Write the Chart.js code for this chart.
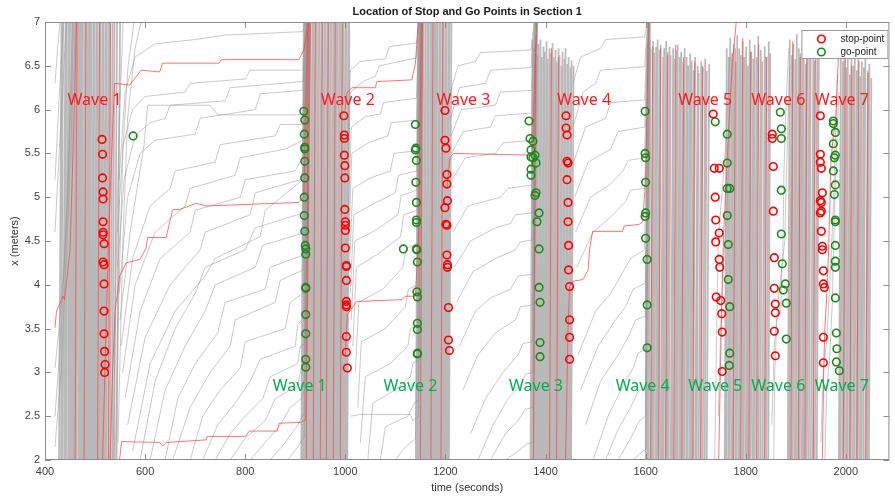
<!DOCTYPE html>
<html>
<head>
<meta charset="utf-8">
<title>Location of Stop and Go Points in Section 1</title>
<script src="https://cdn.jsdelivr.net/npm/chart.js@4.4.1/dist/chart.umd.min.js"></script>
<style>
  html, body { margin: 0; padding: 0; background: #fff; }
  #wrap { width: 895px; height: 498px; }
</style>
</head>
<body>
<div id="wrap"><canvas id="stopGoChart" width="895" height="498"></canvas></div>
<script>
// Axis ranges (time in seconds, position x in meters)
const timeMin = 400;
const timeMax = 2087;
const posMin = 2;
const posMax = 7;

// Wave labels
const waveNames = ['Wave 1', 'Wave 2', 'Wave 3', 'Wave 4', 'Wave 5', 'Wave 6', 'Wave 7'];
const stopLabelTime = [499, 1005, 1236, 1477, 1719, 1865, 1992];
const stopLabelPos = 6.11;
const goLabelTime = [909, 1130, 1381, 1594, 1739, 1865, 1992];
const goLabelPos = 2.84;

// Stop points (red circles), one row per wave
const stopTime = [
  514, 515, 515, 516, 516, 516, 516, 516, 518, 516, 518, 518, 518, 518, 519, 520, 519,
  997, 998, 998, 998, 999, 999, 999, 1000, 1000, 1000, 1000, 1002, 1002, 1002, 1002, 1002, 1002, 1002, 1002, 1004,
  1199, 1199, 1201, 1203, 1203, 1204, 1199, 1201, 1203, 1203, 1204, 1204, 1206, 1206, 1208,
  1441, 1441, 1443, 1443, 1445, 1443, 1445, 1445, 1446, 1446, 1448, 1448, 1448, 1448,
  1735, 1737, 1747, 1739, 1740, 1747, 1740, 1747, 1748, 1741, 1750, 1752, 1753, 1753,
  1853, 1853, 1855, 1855, 1857, 1857, 1859, 1859, 1857, 1859,
  1949, 1949, 1949, 1951, 1953, 1949, 1951, 1951, 1949, 1951, 1953, 1953, 1955, 1955, 1957, 1955, 1955
];
const stopPos = [
  5.66, 5.49, 5.22, 5.06, 4.98, 4.72, 4.60, 4.57, 4.47, 4.26, 4.23, 4.01, 3.70, 3.44, 3.24, 3.09, 3.00,
  5.93, 5.71, 5.67, 5.48, 5.36, 5.22, 4.86, 4.72, 4.68, 4.62, 4.42, 4.22, 4.21, 4.05, 3.81, 3.77, 3.75, 3.41, 3.23, 3.05,
  5.99, 5.65, 5.56, 5.26, 5.15, 4.96, 4.88, 4.69, 4.68, 4.34, 4.23, 4.20, 3.74, 3.37, 3.25,
  5.93, 5.79, 5.71, 5.41, 5.39, 5.20, 4.94, 4.72, 4.45, 4.17, 3.98, 3.60, 3.40, 3.15,
  5.95, 5.33, 5.33, 5.00, 4.74, 4.59, 4.49, 4.29, 4.20, 3.86, 3.82, 3.67, 3.46, 3.01,
  5.72, 5.67, 5.35, 4.84, 4.31, 3.96, 3.78, 3.68, 3.47, 3.19,
  5.93, 5.49, 5.40, 5.33, 5.05, 4.96, 4.94, 4.84, 4.82, 4.61, 4.44, 4.40, 4.16, 4.01, 3.97, 3.40, 3.11
];

// Go points (green circles)
const goTime = [
  576,
  917, 919, 918, 919, 919, 919, 919, 918, 918, 919, 920, 921, 921, 921, 921, 921, 921, 921, 921,
  1140, 1141, 1140, 1142, 1141, 1142, 1142, 1142, 1142, 1143, 1116, 1144, 1143, 1144, 1144, 1144, 1144, 1144,
  1367, 1369, 1375, 1371, 1379, 1371, 1375, 1381, 1371, 1371, 1381, 1379, 1387, 1383, 1387, 1387, 1389, 1389, 1389,
  1599, 1599, 1600, 1600, 1600, 1599, 1600, 1603, 1603, 1603,
  1739, 1763, 1763, 1763, 1768, 1763, 1765, 1765, 1768, 1768, 1767,
  1869, 1871, 1871, 1871, 1871, 1873, 1879, 1875, 1881, 1881,
  1975, 1975, 1979, 1975, 1979, 1977, 1975, 1979, 1977, 1979, 1979, 1979, 1979, 1979, 1979, 1981, 1982, 1981, 1987
];
const goPos = [
  5.70,
  5.98, 5.88, 5.72, 5.57, 5.55, 5.41, 5.22, 5.00, 4.79, 4.61, 4.45, 4.41, 4.35, 3.97, 3.96, 3.66, 3.44, 3.15, 3.06,
  5.83, 5.56, 5.54, 5.42, 5.17, 4.94, 4.74, 4.71, 4.41, 4.40, 4.41, 4.26, 3.92, 3.86, 3.56, 3.49, 3.22, 3.21,
  5.87, 5.67, 5.64, 5.54, 5.48, 5.46, 5.45, 5.39, 5.32, 5.25, 5.05, 5.02, 4.82, 4.72, 4.41, 3.97, 3.80, 3.34, 3.18,
  5.98, 5.50, 5.45, 5.17, 4.82, 4.78, 4.53, 4.29, 3.77, 3.28,
  5.86, 5.72, 5.39, 5.10, 5.10, 4.79, 4.46, 4.06, 3.75, 3.22, 3.08,
  5.97, 5.78, 5.67, 5.08, 4.58, 4.24, 4.01, 3.94, 3.79, 3.38,
  5.87, 5.84, 5.74, 5.61, 5.48, 5.45, 5.30, 5.14, 5.03, 4.74, 4.72, 4.45, 4.27, 4.20, 3.85, 3.45, 3.27, 3.12, 3.02
];

// Dense wave bands: [time at bottom, time at end, end position]
const band1 = [
  [428, 433, 7], [432, 436, 7], [435, 441, 7], [439, 443, 7], [442, 447, 7], [446, 450, 7], [449, 454, 7],
  [452, 456, 7], [455, 460, 7], [458, 462, 7], [461, 466, 7], [463, 468, 7], [467, 471, 7], [469, 474, 7],
  [472, 476, 7], [475, 480, 7], [478, 482, 7], [481, 486, 7], [483, 488, 7], [486, 491, 7], [489, 493, 7],
  [492, 497, 7], [495, 499, 7], [498, 503, 7], [501, 505, 7], [504, 509, 7], [507, 511, 7], [510, 515, 7],
  [513, 517, 7], [516, 521, 7], [519, 523, 7], [522, 527, 7], [526, 530, 7], [530, 535, 7], [534, 539, 7],
  [538, 544, 7], [543, 550, 7]
];
const band2 = [
  [912, 917, 7], [915, 919, 7], [918, 923, 7], [920, 924, 7], [923, 928, 7], [926, 930, 7], [929, 934, 7],
  [932, 936, 7], [935, 940, 7], [938, 942, 7], [941, 946, 7], [944, 948, 7], [947, 952, 7], [950, 954, 7],
  [953, 958, 7], [956, 960, 7], [959, 964, 7], [962, 966, 7], [965, 970, 7], [968, 972, 7], [971, 976, 7],
  [974, 978, 7], [977, 982, 7], [980, 984, 7], [983, 988, 7], [986, 990, 7], [989, 994, 7], [992, 996, 7],
  [995, 1000, 7], [998, 1002, 7], [1001, 1006, 7], [1004, 1008, 7]
];
const band3 = [
  [1141, 1145, 7], [1143, 1148, 7], [1146, 1150, 7], [1149, 1154, 7], [1152, 1156, 7], [1155, 1160, 7],
  [1157, 1161, 7], [1160, 1165, 7], [1163, 1167, 7], [1166, 1171, 7], [1169, 1173, 7], [1172, 1177, 7],
  [1175, 1179, 7], [1177, 1182, 7], [1180, 1184, 7], [1183, 1188, 7], [1186, 1190, 7], [1189, 1194, 7],
  [1192, 1196, 7], [1195, 1200, 7], [1198, 1202, 7], [1201, 1206, 7], [1204, 1208, 7], [1207, 1212, 7]
];
const band4 = [
  [1370, 1374, 6.8], [1373, 1378, 6.7], [1376, 1380, 6.85], [1379, 1384, 6.62], [1382, 1386, 6.75],
  [1385, 1390, 6.8], [1388, 1392, 6.6], [1391, 1396, 6.72], [1394, 1398, 6.66], [1397, 1402, 6.78],
  [1400, 1404, 6.58], [1403, 1408, 6.7], [1406, 1410, 6.64], [1409, 1414, 6.76], [1412, 1416, 6.6],
  [1415, 1420, 6.68], [1418, 1422, 6.55], [1421, 1426, 6.7], [1424, 1428, 6.62], [1427, 1432, 6.5],
  [1430, 1434, 6.66], [1433, 1438, 6.58], [1436, 1440, 6.7], [1439, 1444, 6.52], [1442, 1446, 6.6],
  [1445, 1450, 6.48], [1448, 1452, 6.56], [1451, 1456, 6.5]
];
const band5 = [
  [1600, 1604, 6.75], [1603, 1608, 6.8], [1606, 1610, 6.7], [1610, 1615, 6.78], [1613, 1617, 6.65],
  [1616, 1621, 6.72], [1620, 1624, 6.8], [1623, 1628, 6.68], [1626, 1630, 6.74], [1630, 1635, 6.6],
  [1633, 1637, 6.7], [1636, 1641, 6.78], [1640, 1644, 6.66], [1643, 1648, 6.72], [1646, 1650, 6.62],
  [1650, 1655, 6.7], [1653, 1657, 6.58], [1657, 1662, 6.68], [1660, 1664, 6.74], [1663, 1668, 6.6],
  [1667, 1671, 6.66], [1670, 1675, 6.55], [1674, 1678, 6.7], [1677, 1682, 6.6], [1681, 1685, 6.5],
  [1684, 1689, 6.64], [1688, 1692, 6.56], [1691, 1696, 6.45], [1695, 1699, 6.6], [1699, 1704, 6.5],
  [1702, 1706, 6.42], [1706, 1711, 6.55], [1710, 1714, 6.48], [1714, 1719, 6.58], [1718, 1722, 6.44],
  [1722, 1727, 6.52]
];
const band6 = [
  [1758, 1762, 6.7], [1761, 1766, 6.6], [1765, 1769, 6.82], [1768, 1773, 6.65], [1772, 1776, 6.75],
  [1775, 1780, 6.55], [1779, 1783, 6.85], [1782, 1787, 6.7], [1786, 1790, 6.62], [1789, 1794, 6.78],
  [1793, 1797, 6.6], [1796, 1801, 6.72], [1800, 1804, 6.5], [1803, 1808, 6.8], [1807, 1811, 6.66],
  [1810, 1815, 6.58], [1814, 1818, 6.74], [1817, 1822, 6.6], [1821, 1825, 6.84], [1825, 1830, 6.68],
  [1829, 1833, 6.55], [1833, 1838, 6.72], [1837, 1841, 6.6], [1841, 1846, 6.78], [1845, 1849, 6.64]
];
const band7 = [
  [1884, 1888, 6.8], [1887, 1892, 6.62], [1891, 1895, 6.75], [1894, 1899, 6.58], [1898, 1902, 6.86],
  [1901, 1906, 6.7], [1905, 1909, 6.6], [1908, 1913, 6.78], [1912, 1916, 6.66], [1915, 1920, 6.52],
  [1919, 1923, 6.74], [1922, 1927, 6.6], [1926, 1930, 6.82], [1930, 1935, 6.68], [1934, 1938, 6.56],
  [1938, 1943, 6.7], [1942, 1946, 6.6]
];
const band8 = [
  [1986, 1990, 6.7], [1989, 1994, 6.55], [1993, 1997, 6.66], [1996, 2001, 6.48], [2000, 2004, 6.62],
  [2003, 2008, 6.4], [2007, 2011, 6.58], [2010, 2015, 6.5], [2014, 2018, 6.64], [2017, 2022, 6.45],
  [2021, 2025, 6.6], [2024, 2029, 6.38], [2028, 2032, 6.55], [2031, 2036, 6.48], [2035, 2039, 6.6],
  [2039, 2044, 6.42], [2043, 2047, 6.52], [2046, 2051, 6.36]
];
// highlighted (red) trajectories inside the bands
const redBand = [
  [460, 464, 7], [478, 482, 7], [505, 509, 7], [527, 531, 7],
  [922, 926, 7], [936, 940, 7], [950, 954, 7], [962, 966, 7], [976, 980, 7], [990, 994, 7],
  [1150, 1154, 7], [1171, 1175, 7], [1191, 1195, 7],
  [1376, 1380, 6.75], [1408, 1412, 6.7], [1422, 1426, 6.6],
  [1610, 1614, 6.72], [1626, 1630, 6.7], [1640, 1644, 6.62], [1656, 1660, 6.74], [1672, 1676, 6.6],
  [1694, 1698, 6.55], [1710, 1714, 6.5], [1775, 1779, 6.7], [1790, 1794, 6.82], [1806, 1810, 6.66],
  [1822, 1826, 6.74], [1838, 1842, 6.6], [1890, 1894, 6.78], [1905, 1909, 6.64], [1918, 1922, 6.7],
  [1935, 1939, 6.58], [1995, 1999, 6.6], [2008, 2012, 6.5], [2022, 2026, 6.55], [2040, 2044, 6.45]
];

// Slow creeping trajectories between the waves: [time, position] points
const grayCurves = [
  // vehicles already in the section at the start
  [[420, 6.3], [426, 6.75], [430, 7]],
  [[420, 5.2], [428, 6.1], [437, 7]],
  [[420, 4.6], [431, 5.8], [443, 7]],
  [[420, 3.05], [428, 3.5], [438, 4.2], [449, 5.6], [458, 7]],
  [[420, 2.5], [430, 3.3], [444, 4.8], [455, 7]],
  [[420, 2.15], [432, 3.0], [447, 4.9], [461, 7]],
  [[536, 2.0], [542, 4.2], [548, 5.8], [556, 7]],
  [[540, 2.0], [548, 4.0], [556, 5.6], [566, 6.5], [578, 7]],
  [[546, 2.2], [555, 4.4], [565, 5.9], [580, 6.7], [592, 7]],
  // between wave 1 and wave 2
  [[548, 5.2], [560, 6.2], [580, 6.6], [620, 6.75], [700, 6.8], [760, 6.85], [915, 6.89], [920, 7]],
  [[545, 4.6], [556, 5.6], [575, 6.0], [600, 6.15], [680, 6.2], [690, 6.3], [800, 6.35], [810, 6.45], [915, 6.45], [920, 7]],
  [[545, 4.2], [558, 5.2], [580, 5.7], [610, 5.85], [640, 5.9], [650, 6.05], [760, 6.1], [770, 6.25], [915, 6.32], [921, 7]],
  [[548, 3.9], [565, 5.0], [590, 5.5], [620, 5.65], [700, 5.72], [710, 5.9], [820, 6.0], [830, 6.18], [915, 6.22], [922, 7]],
  [[550, 3.6], [570, 4.6], [598, 5.6], [605, 6.05], [730, 6.05], [745, 5.94], [915, 5.94], [922, 7]],
  [[552, 3.3], [575, 4.3], [610, 4.9], [650, 5.1], [660, 5.3], [740, 5.4], [750, 5.6], [860, 5.7], [870, 5.83], [915, 5.83], [923, 7]],
  [[555, 3.0], [580, 4.0], [620, 4.6], [680, 4.9], [690, 5.1], [780, 5.25], [790, 5.45], [880, 5.55], [915, 5.65], [923, 7]],
  [[560, 2.7], [590, 3.7], [630, 4.3], [690, 4.6], [700, 4.85], [790, 5.0], [800, 5.2], [900, 5.3], [915, 5.46], [924, 7]],
  [[565, 2.4], [600, 3.4], [650, 4.0], [710, 4.4], [720, 4.6], [810, 4.8], [820, 5.05], [910, 5.2], [916, 5.34], [924, 7]],
  [[575, 2.1], [610, 3.1], [660, 3.7], [720, 4.1], [740, 4.3], [830, 4.55], [840, 4.85], [915, 5.2], [925, 7]],
  [[590, 2.0], [620, 2.9], [660, 3.5], [700, 3.9], [720, 4.2], [800, 4.4], [820, 4.65], [915, 4.82], [925, 7]],
  [[610, 2.0], [640, 2.8], [680, 3.3], [720, 3.7], [740, 4.0], [820, 4.2], [835, 4.45], [915, 4.59], [926, 7]],
  [[640, 2.0], [665, 2.7], [700, 3.1], [745, 3.45], [760, 3.8], [840, 3.95], [850, 4.2], [916, 4.34], [926, 7]],
  [[655, 2.0], [690, 2.6], [730, 3.0], [770, 3.3], [780, 3.6], [860, 3.8], [870, 4.05], [916, 4.17], [927, 7]],
  [[690, 2.0], [715, 2.5], [750, 2.8], [790, 3.05], [800, 3.35], [880, 3.5], [890, 3.8], [917, 3.91], [927, 7]],
  [[715, 2.0], [745, 2.4], [780, 2.65], [810, 2.9], [830, 3.15], [900, 3.3], [905, 3.55], [917, 3.62], [928, 7]],
  [[740, 2.0], [770, 2.3], [800, 2.5], [835, 2.7], [850, 2.95], [905, 3.1], [910, 3.3], [918, 3.32], [928, 7]],
  [[770, 2.0], [800, 2.25], [840, 2.45], [860, 2.7], [905, 2.85], [912, 3.05], [918, 3.09], [929, 7]],
  [[810, 2.0], [840, 2.2], [870, 2.4], [890, 2.6], [912, 2.7], [918, 2.8], [929, 7]],
  [[850, 2.0], [880, 2.2], [905, 2.4], [918, 2.54], [930, 7]],
  [[885, 2.0], [905, 2.15], [918, 2.26], [930, 7]],
  // between wave 2 and wave 3: long plateaus with small steps
  [[1005, 5.6], [1010, 6.45], [1030, 6.55], [1080, 6.58], [1088, 6.72], [1142, 6.76], [1148, 7]],
  [[1005, 5.2], [1010, 6.2], [1035, 6.32], [1060, 6.38], [1068, 6.5], [1142, 6.59], [1148, 7]],
  [[1006, 4.8], [1012, 5.8], [1040, 5.92], [1070, 5.95], [1076, 6.08], [1142, 6.13], [1149, 7]],
  [[1007, 4.5], [1013, 5.5], [1045, 5.62], [1085, 5.7], [1092, 5.85], [1142, 5.88], [1149, 7]],
  [[1008, 4.2], [1015, 5.1], [1050, 5.22], [1090, 5.3], [1097, 5.5], [1143, 5.53], [1150, 7]],
  [[1010, 3.9], [1017, 4.8], [1055, 4.92], [1100, 5.05], [1106, 5.25], [1143, 5.3], [1150, 7]],
  [[1012, 3.6], [1019, 4.5], [1060, 4.62], [1105, 4.8], [1112, 5.02], [1143, 5.08], [1151, 7]],
  [[1015, 3.3], [1022, 4.2], [1065, 4.35], [1110, 4.55], [1117, 4.8], [1144, 4.85], [1151, 7]],
  [[1020, 3.0], [1027, 3.8], [1075, 3.95], [1115, 4.2], [1122, 4.42], [1144, 4.46], [1152, 7]],
  [[1025, 2.6], [1032, 3.35], [1080, 3.5], [1120, 3.75], [1126, 3.95], [1145, 4.0], [1152, 7]],
  [[1030, 2.2], [1040, 2.95], [1090, 3.1], [1125, 3.3], [1130, 3.5], [1145, 3.54], [1153, 7]],
  [[1045, 2.0], [1055, 2.65], [1100, 2.8], [1130, 2.95], [1135, 3.1], [1146, 3.14], [1153, 7]],
  [[1070, 2.0], [1080, 2.38], [1125, 2.5], [1138, 2.65], [1146, 2.68], [1154, 7]],
  [[1010, 2.5], [1030, 2.52], [1130, 2.52], [1135, 2.45], [1146, 2.49], [1154, 7]],
  [[1100, 2.0], [1120, 2.15], [1140, 2.24], [1155, 7]],
  // between wave 3 and wave 4
  [[1210, 6.2], [1225, 6.5], [1260, 6.55], [1270, 6.65], [1371, 6.68], [1377, 7]],
  [[1210, 5.9], [1228, 6.25], [1280, 6.3], [1290, 6.45], [1371, 6.48], [1378, 7]],
  [[1211, 5.7], [1232, 6.0], [1300, 6.05], [1310, 6.2], [1372, 6.22], [1378, 7]],
  [[1212, 5.5], [1236, 5.75], [1290, 5.8], [1300, 5.93], [1372, 5.96], [1379, 7]],
  [[1213, 5.2], [1240, 5.45], [1300, 5.5], [1315, 5.62], [1372, 5.65], [1379, 7]],
  [[1215, 4.6], [1245, 4.9], [1310, 5.0], [1325, 5.1], [1373, 5.14], [1380, 7]],
  [[1218, 4.2], [1250, 4.5], [1300, 4.65], [1330, 4.7], [1340, 4.8], [1373, 4.82], [1380, 7]],
  [[1222, 3.8], [1255, 4.15], [1300, 4.3], [1340, 4.4], [1350, 4.49], [1373, 4.51], [1381, 7]],
  [[1228, 3.3], [1260, 3.7], [1290, 3.85], [1330, 3.95], [1345, 4.1], [1374, 4.12], [1381, 7]],
  [[1235, 2.8], [1265, 3.2], [1300, 3.45], [1340, 3.6], [1350, 3.75], [1374, 3.77], [1382, 7]],
  [[1250, 2.3], [1280, 2.7], [1315, 3.0], [1345, 3.2], [1355, 3.33], [1374, 3.35], [1382, 7]],
  [[1265, 2.0], [1295, 2.4], [1325, 2.7], [1350, 2.85], [1360, 2.98], [1375, 3.0], [1383, 7]],
  [[1290, 2.0], [1320, 2.3], [1345, 2.45], [1360, 2.58], [1375, 2.6], [1383, 7]],
  [[1320, 2.0], [1345, 2.1], [1362, 2.18], [1376, 2.2], [1384, 7]],
  // between wave 4 and the long wave train
  [[1455, 6.3], [1470, 6.6], [1510, 6.7], [1520, 6.8], [1598, 6.83], [1603, 7]],
  [[1455, 5.8], [1475, 6.2], [1500, 6.3], [1510, 6.45], [1598, 6.49], [1604, 7]],
  [[1456, 5.4], [1480, 5.8], [1520, 5.9], [1530, 6.08], [1598, 6.11], [1604, 7]],
  [[1458, 5.0], [1485, 5.4], [1530, 5.55], [1545, 5.75], [1598, 5.8], [1605, 7]],
  [[1460, 4.6], [1490, 5.0], [1530, 5.15], [1555, 5.3], [1565, 5.42], [1598, 5.45], [1605, 7]],
  [[1462, 4.2], [1495, 4.6], [1535, 4.8], [1560, 4.95], [1570, 5.08], [1598, 5.1], [1606, 7]],
  [[1465, 3.2], [1500, 3.7], [1530, 3.9], [1550, 4.1], [1570, 4.3], [1598, 4.4], [1606, 7]],
  [[1470, 2.8], [1505, 3.3], [1540, 3.6], [1560, 3.75], [1575, 3.95], [1599, 4.02], [1607, 7]],
  [[1480, 2.4], [1510, 2.9], [1545, 3.2], [1565, 3.4], [1580, 3.6], [1599, 3.64], [1607, 7]],
  [[1495, 2.0], [1525, 2.5], [1555, 2.85], [1575, 3.05], [1585, 3.22], [1599, 3.26], [1608, 7]],
  [[1520, 2.0], [1545, 2.35], [1570, 2.6], [1585, 2.78], [1600, 2.84], [1608, 7]],
  [[1545, 2.0], [1570, 2.25], [1588, 2.45], [1600, 2.5], [1609, 7]],
  [[1575, 2.0], [1590, 2.08], [1600, 2.12], [1609, 7]],
  // inside the gaps of waves 5 to 7
  [[1738, 2.0], [1742, 3.5], [1745, 4.5], [1752, 5.0], [1760, 5.6], [1765, 6.2], [1768, 6.6]],
  [[1745, 2.5], [1750, 3.5], [1755, 4.2], [1762, 4.8], [1768, 5.8], [1772, 6.6]],
  [[1856, 2.0], [1858, 3.0], [1862, 3.6], [1870, 3.7], [1872, 4.2], [1878, 4.5], [1880, 5.0], [1884, 5.8], [1888, 6.5]],
  [[1852, 2.4], [1857, 3.3], [1866, 3.9], [1874, 4.3], [1876, 5.2], [1880, 6.0], [1886, 6.7]],
  [[1950, 2.2], [1955, 3.0], [1962, 3.4], [1967, 3.9], [1972, 4.5], [1976, 5.0], [1978, 5.5], [1983, 6.4]],
  [[1958, 2.0], [1962, 2.8], [1968, 3.2], [1973, 3.8], [1976, 4.6], [1980, 5.3], [1986, 6.2]]
];

const redCurves = [
  [[420, 3.51], [423, 3.7], [436, 3.87], [439, 3.83], [443, 4.02], [450, 4.4], [456, 5.5], [463, 7]],
  [[515, 2.0], [522, 3.5], [528, 4.7], [534, 5.6], [539, 6.3], [569, 6.28], [592, 6.45], [629, 6.43], [635, 6.53],
   [748, 6.53], [752, 6.57], [907, 6.57], [917, 6.68], [927, 7]],
  [[530, 2.0], [535, 3.0], [540, 3.7], [549, 4.1], [562, 4.25], [590, 4.29], [602, 4.42], [605, 4.54], [642, 4.54],
   [655, 4.86], [669, 4.86], [702, 4.93], [722, 4.9], [907, 4.94], [917, 5.0], [925, 7]],
  [[549, 2.0], [553, 2.21], [629, 2.2], [635, 2.16], [642, 2.2], [722, 2.23], [724, 2.27], [801, 2.27], [808, 2.33],
   [864, 2.33], [868, 2.42], [911, 2.43], [921, 2.46], [925, 4.0], [930, 7]],
  [[1000, 6.0], [1003, 6.19], [1013, 6.25], [1060, 6.25], [1063, 6.32], [1133, 6.34], [1140, 6.53], [1146, 7]],
  [[1000, 3.2], [1004, 3.66], [1023, 3.81], [1113, 3.83], [1120, 3.87], [1140, 3.87], [1146, 4.5], [1152, 7]],
  [[1203, 5.1], [1209, 5.45], [1216, 5.5], [1373, 5.48], [1378, 6.3], [1383, 7]],
  [[1440, 2.0], [1445, 3.5], [1448, 3.98], [1455, 4.04], [1475, 4.06], [1485, 4.17], [1488, 4.4], [1494, 4.61],
   [1554, 4.61], [1557, 4.67], [1587, 4.69], [1594, 4.72], [1600, 5.2], [1606, 7]],
  [[1746, 2.0], [1750, 3.2], [1753, 4.0], [1756, 4.6], [1761, 5.2], [1766, 5.8], [1773, 6.5], [1781, 7]],
  [[1953, 2.0], [1956, 3.1], [1958, 3.5], [1962, 3.9], [1965, 4.3], [1968, 4.9], [1970, 5.4], [1975, 5.7], [1980, 5.9], [1985, 6.6]]
];

// ---- helpers -------------------------------------------------------------

// turn a band of [t0, t1, x1] crossings into two-point trajectories
const bandToCurves = band => band.map(([t0, t1, x1]) => [[t0, posMin], [t1, x1]]);

// many polylines -> one dataset, broken by null gaps
function toPoints(curves) {
  const pts = [];
  curves.forEach(curve => {
    curve.forEach(([t, x]) => pts.push({ x: t, y: x }));
    pts.push({ x: curve[curve.length - 1][0], y: null });
  });
  return pts;
}

const grayBands = [band1, band2, band3, band4, band5, band6, band7, band8].flatMap(bandToCurves);
const redLines = bandToCurves(redBand).concat(redCurves);

const FONT = 'Liberation Sans, Arial, Helvetica, sans-serif';
const RED = '#ff0000';
const GREEN = '#1a8a1a';
const AXIS_GREY = '#8c8c8c';

// box, inward ticks, title, wave labels and the legend, MATLAB style
const decorPlugin = {
  id: 'decor',
  afterDraw(chart) {
    const { ctx, chartArea: a, scales: { x, y } } = chart;
    ctx.save();

    // axes box
    ctx.strokeStyle = AXIS_GREY;
    ctx.lineWidth = 1;
    ctx.strokeRect(a.left + 0.5, a.top + 0.5, a.right - a.left - 1, a.bottom - a.top - 1);

    // inward ticks on all four sides
    ctx.beginPath();
    x.ticks.forEach(tk => {
      const px = Math.round(x.getPixelForValue(tk.value)) + 0.5;
      ctx.moveTo(px, a.bottom); ctx.lineTo(px, a.bottom - 6);
      ctx.moveTo(px, a.top); ctx.lineTo(px, a.top + 6);
    });
    y.ticks.forEach(tk => {
      const py = Math.round(y.getPixelForValue(tk.value)) + 0.5;
      ctx.moveTo(a.left, py); ctx.lineTo(a.left + 6, py);
      ctx.moveTo(a.right, py); ctx.lineTo(a.right - 6, py);
    });
    ctx.stroke();

    // title
    ctx.fillStyle = '#1a1a1a';
    ctx.font = 'bold 11px ' + FONT;
    ctx.textAlign = 'center';
    ctx.textBaseline = 'middle';
    ctx.fillText('Location of Stop and Go Points in Section 1', (a.left + a.right) / 2, 12);

    // wave labels
    ctx.font = '16px "Noto Sans", sans-serif';
    waveNames.forEach((name, i) => {
      ctx.fillStyle = '#ff1a1a';
      ctx.fillText(name, x.getPixelForValue(stopLabelTime[i]), y.getPixelForValue(stopLabelPos));
      ctx.fillStyle = '#00b050';
      ctx.fillText(name, x.getPixelForValue(goLabelTime[i]), y.getPixelForValue(goLabelPos));
    });

    // legend
    const bx = a.right - 88, by = a.top + 8, bw = 87, bh = 29;
    ctx.fillStyle = '#fff';
    ctx.fillRect(bx, by, bw, bh);
    ctx.strokeStyle = '#9a9a9a';
    ctx.lineWidth = 1;
    ctx.strokeRect(bx + 0.5, by + 0.5, bw - 1, bh - 1);
    ctx.font = '10px ' + FONT;
    ctx.textAlign = 'left';
    [['stop-point', RED], ['go-point', GREEN]].forEach(([label, color], i) => {
      const cy = by + 9 + i * 13;
      ctx.beginPath();
      ctx.strokeStyle = color;
      ctx.lineWidth = 1.6;
      ctx.arc(bx + 20, cy, 3.8, 0, Math.PI * 2);
      ctx.stroke();
      ctx.fillStyle = '#222';
      ctx.fillText(label, bx + 39, cy + 0.5);
    });
    ctx.restore();
  }
};

const ctx = document.getElementById('stopGoChart');
new Chart(ctx, {
  type: 'scatter',
  data: {
    datasets: [
      {
        label: 'stop-point',
        data: stopTime.map((t, i) => ({ x: t, y: stopPos[i] })),
        borderColor: RED,
        backgroundColor: 'rgba(0,0,0,0)',
        pointRadius: 3.8,
        borderWidth: 1.6
      },
      {
        label: 'go-point',
        data: goTime.map((t, i) => ({ x: t, y: goPos[i] })),
        borderColor: GREEN,
        backgroundColor: 'rgba(0,0,0,0)',
        pointRadius: 3.8,
        borderWidth: 1.6
      },
      {
        label: 'red trajectories',
        data: toPoints(redLines),
        showLine: true,
        borderColor: 'rgba(255,70,70,0.75)',
        borderWidth: 1,
        pointRadius: 0
      },
      {
        label: 'creeping trajectories',
        data: toPoints(grayCurves),
        showLine: true,
        borderColor: 'rgba(150,150,150,0.5)',
        borderWidth: 1,
        pointRadius: 0
      },
      {
        label: 'wave trajectories',
        data: toPoints(grayBands),
        showLine: true,
        borderColor: 'rgba(100,100,100,0.45)',
        borderWidth: 1.7,
        pointRadius: 0
      }
    ]
  },
  options: {
    responsive: false,
    animation: false,
    devicePixelRatio: 1,
    events: [],
    layout: { padding: { top: 22, right: 2, left: 0, bottom: 0 } },
    plugins: {
      legend: { display: false },
      title: { display: false },
      tooltip: { enabled: false }
    },
    scales: {
      x: {
        type: 'linear',
        min: timeMin,
        max: timeMax,
        grid: { display: false, drawTicks: false },
        border: { display: false },
        ticks: {
          stepSize: 200, padding: 5, color: '#404040', font: { family: FONT, size: 11 },
          callback: v => String(v)
        },
        afterBuildTicks: scale => { scale.ticks = scale.ticks.filter(tk => tk.value % 200 === 0); },
        afterFit: scale => { scale.height = 38; },
        title: {
          display: true,
          text: 'time (seconds)',
          color: '#333',
          font: { family: FONT, size: 11 },
          padding: { top: 0, bottom: 3 }
        }
      },
      y: {
        min: posMin,
        max: posMax,
        grid: { display: false, drawTicks: false },
        border: { display: false },
        ticks: {
          stepSize: 0.5, padding: 5, color: '#404040', font: { family: FONT, size: 11 },
          callback: v => String(v)
        },
        afterFit: scale => { scale.width = 45; },
        title: {
          display: true,
          text: 'x (meters)',
          color: '#333',
          font: { family: FONT, size: 11 },
          padding: { top: 8, bottom: 0 }
        }
      }
    }
  },
  plugins: [decorPlugin]
});
</script>
</body>
</html>
